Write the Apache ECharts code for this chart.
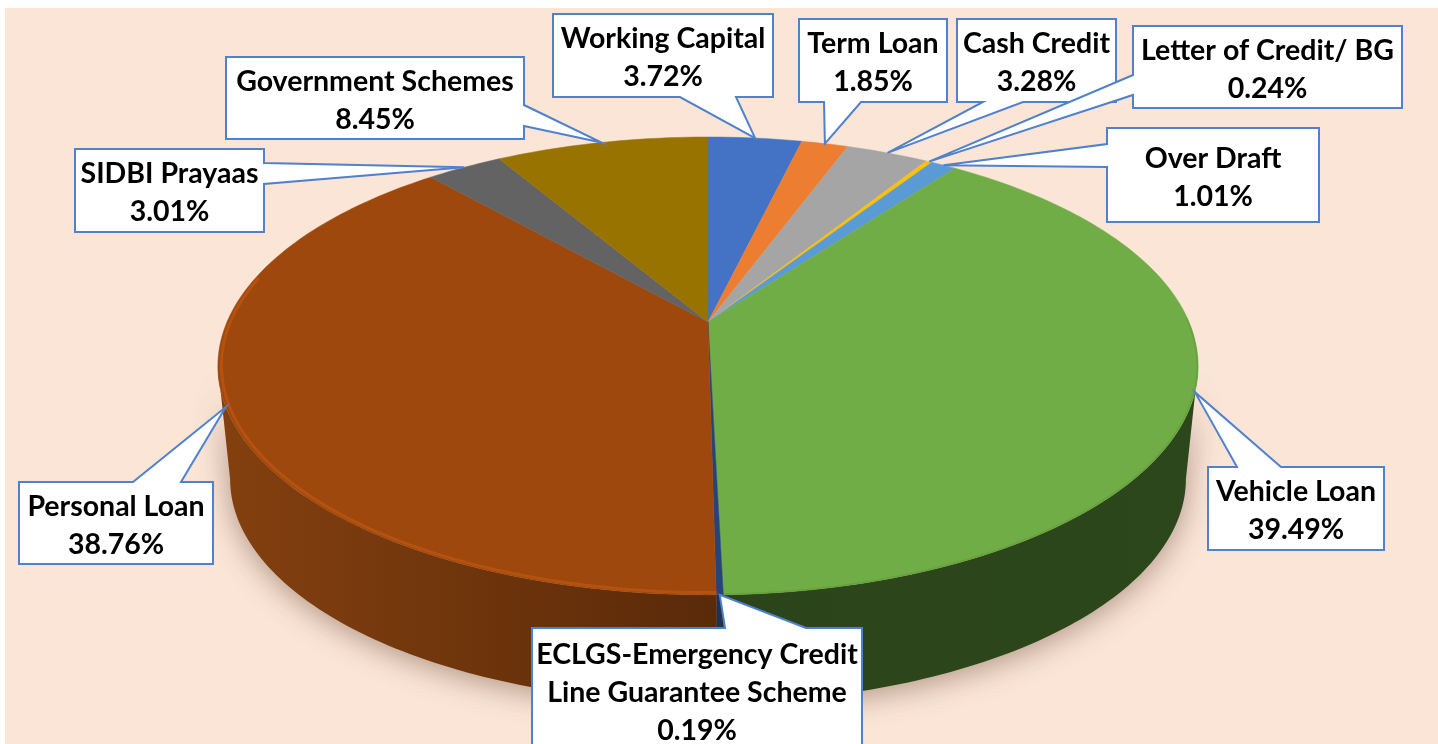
<!DOCTYPE html>
<html>
<head>
<meta charset="utf-8">
<title>Loan portfolio</title>
<script src="https://cdn.jsdelivr.net/npm/echarts@6/dist/echarts.min.js"></script>
<style>
  html, body { margin: 0; padding: 0; background: #fff; overflow: hidden; }
  #panel { position: absolute; left: 5px; top: 8px; width: 1433px; height: 736px; background: #fbe5d6; }
  #chart { position: absolute; left: 0; top: 0; width: 1438px; height: 744px; }
</style>
</head>
<body>
<div id="panel"></div>
<div id="chart"></div>
<script>
// data, clockwise from 12 o'clock
var categories = [
  "Working Capital", "Term Loan", "Cash Credit", "Letter of Credit/ BG", "Over Draft",
  "Vehicle Loan", "ECLGS-Emergency Credit\nLine Guarantee Scheme", "Personal Loan",
  "SIDBI Prayaas", "Government Schemes"
];
var shares = [3.72, 1.85, 3.28, 0.24, 1.01, 39.49, 0.19, 38.76, 3.01, 8.45];
var colors = ["#4472c4", "#ed7d31", "#a5a5a5", "#ffc000", "#5b9bd5", "#70ad47", "#264478", "#9e480e", "#636363", "#997300"];

// dark side of the disc: [left, right] of a slice, only the front ones show
var wallColors = {
  5: ["#2c4419", "#2c471b"],
  6: ["#1b3358", "#1b3358"],
  7: ["#84400f", "#5a2a09"]
};

// callout boxes [x, y, w, h], side the pointer leaves from, and where it joins the box
var boxes = [
  [553, 14, 220, 83], [799, 19, 148, 83], [957, 19, 159, 83], [1133, 26, 269, 82], [1107, 128, 212, 94],
  [1208, 467, 176, 83], [532, 628, 330, 124], [19, 482, 194, 82], [75, 149, 189, 83], [226, 57, 298, 82]
];
var pointerSides = ["b", "b", "b", "l", "l", "t", "t", "t", "r", "r"];
var pointerBases = [
  [680, 736], [824, 861], [983, 1023], [75, 95], [144, 167],
  [1237, 1281], [725, 806], [133, 181], [163, 184], [105, 126]
];

// perspective disc: far edge is squeezed, near edge is stretched
var TILT = 0.192;
var topDisc = { cx: 708, cy: 322, a: 481, b: 220.5 };
var baseDisc = { cx: 708, cy: 436, a: 469, b: 215.7 };

function project(disc, deg, scale) {
  var t = deg * Math.PI / 180;
  var r = scale === undefined ? 1 : scale;
  var u = r * Math.sin(t), v = r * Math.cos(t);
  var d = 1 + TILT * v;
  return [disc.cx + disc.a * u / d, disc.cy - disc.b * v / d];
}

function arc(disc, from, to, scale) {
  var n = Math.max(2, Math.ceil(Math.abs(to - from)));
  var pts = [];
  for (var i = 0; i <= n; i++) {
    pts.push(project(disc, from + (to - from) * i / n, scale));
  }
  return pts;
}

var total = shares.reduce(function (s, v) { return s + v; }, 0);
function sliceAngles(i) {
  var before = 0;
  for (var j = 0; j < i; j++) before += shares[j];
  return [before / total * 360, (before + shares[i]) / total * 360];
}

// the disc's outline turns around here, behind that the side can't be seen
var FRONT_FROM = Math.acos(-TILT) * 180 / Math.PI;
var FRONT_TO = 360 - FRONT_FROM;

var seriesData = shares.map(function (v, i) { return [i, v]; });

function renderWall(params, api) {
  var i = api.value(0);
  var ang = sliceAngles(i);
  var from = Math.max(ang[0], FRONT_FROM), to = Math.min(ang[1], FRONT_TO);
  if (to <= from || !wallColors[i]) return null;
  var pts = arc(topDisc, from, to).concat(arc(baseDisc, to, from));
  var stops = wallColors[i];
  return {
    type: "polygon",
    shape: { points: pts },
    style: {
      fill: {
        type: "linear", x: 0, y: 0, x2: 1, y2: 0,
        colorStops: [{ offset: 0, color: stops[0] }, { offset: 1, color: stops[1] }]
      },
      shadowBlur: 30,
      shadowColor: "rgba(70,40,20,0.42)",
      shadowOffsetY: 5
    }
  };
}

function renderFace(params, api) {
  var i = api.value(0);
  var ang = sliceAngles(i);
  var pts = [project(topDisc, 0, 0)].concat(arc(topDisc, ang[0], ang[1]));
  var children = [{
    type: "polygon",
    shape: { points: pts },
    style: { fill: colors[i], stroke: colors[i], lineWidth: 0.5 }
  }];
  if (i === 7) {
    // lit bevel on the personal loan rim
    children.push({
      type: "polyline",
      shape: { points: arc(topDisc, ang[0], 282, 0.993) },
      style: { stroke: "#b5520f", lineWidth: 3, fill: null }
    });
  }
  if (i === 5) {
    children.push({
      type: "polyline",
      shape: { points: arc(topDisc, FRONT_FROM - 12, ang[1], 0.998) },
      style: { stroke: "#66a23f", lineWidth: 1.5, fill: null }
    });
  }
  return { type: "group", children: children };
}

function calloutOutline(box, side, base, tip) {
  var x = box[0], y = box[1], r = x + box[2], b = y + box[3];
  var pts = [[x, y]];
  if (side === "t") pts.push([base[0], y], tip, [base[1], y]);
  pts.push([r, y]);
  if (side === "r") pts.push([r, base[0]], tip, [r, base[1]]);
  pts.push([r, b]);
  if (side === "b") pts.push([base[1], b], tip, [base[0], b]);
  pts.push([x, b]);
  if (side === "l") pts.push([x, base[1]], tip, [x, base[0]]);
  return pts;
}

function renderCallout(params, api) {
  var i = api.value(0);
  var ang = sliceAngles(i);
  var tip = project(topDisc, (ang[0] + ang[1]) / 2);
  var box = boxes[i];
  return {
    type: "group",
    children: [{
      type: "polygon",
      shape: { points: calloutOutline(box, pointerSides[i], pointerBases[i], tip) },
      style: { fill: "#fff", stroke: "#5081cc", lineWidth: 2, lineJoin: "miter" }
    }, {
      type: "text",
      style: {
        x: box[0] + box[2] / 2,
        y: box[1] + box[3] / 2 + 2.5,
        text: categories[i] + "\n" + api.value(1).toFixed(2) + "%",
        fill: "#000",
        align: "center",
        verticalAlign: "middle",
        fontFamily: "Lato",
        fontWeight: "bold",
        fontSize: 28.5,
        lineHeight: 38
      }
    }]
  };
}

var chart = echarts.init(document.getElementById("chart"));
chart.setOption({
  animation: false,
  series: [
    { type: "custom", coordinateSystem: "none", silent: true, renderItem: renderWall, data: seriesData, z: 1 },
    { type: "custom", coordinateSystem: "none", silent: true, renderItem: renderFace, data: seriesData, z: 2 },
    { type: "custom", coordinateSystem: "none", silent: true, renderItem: renderCallout, data: seriesData, z: 3 }
  ]
});
window.addEventListener("resize", function () { chart.resize(); });
</script>
</body>
</html>
